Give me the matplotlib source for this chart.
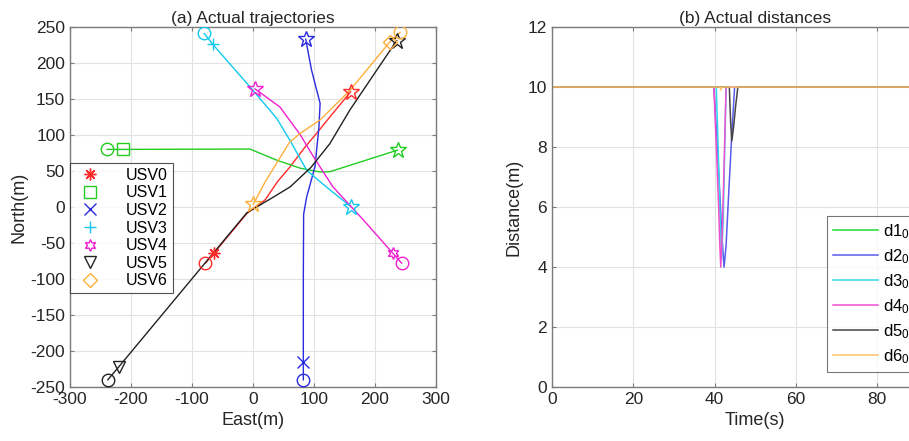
import numpy as np
import matplotlib
matplotlib.use("Agg")
import matplotlib.pyplot as plt

plt.rcParams['font.family'] = ['Liberation Sans', 'DejaVu Sans']
plt.rcParams['mathtext.fontset'] = 'custom'
plt.rcParams['mathtext.rm'] = 'Liberation Sans'
plt.rcParams['mathtext.it'] = 'Liberation Sans'
plt.rcParams['axes.unicode_minus'] = False

# ---- (a) trajectories: east / north points of each USV ----
usv_names = ['USV0', 'USV1', 'USV2', 'USV3', 'USV4', 'USV5', 'USV6']
usv_colors = ['#ff2a2a', '#22cc22', '#2a2ae0', '#11c8ee', '#f020d0', '#222222', '#ffb03a']
usv_markers = [(8, 2, 0), 's', 'x', '+', (6, 1, 0), 'v', 'D']

east0 = [-78, -64, -10, 20, 40, 60, 86, 104, 126, 160]
north0 = [-78, -64, -9, 10, 35, 55, 84, 102, 125, 160]
east1 = [-239, -213, -5, 39, 77, 110, 126, 237]
north1 = [80, 80, 80.5, 65, 54, 48.6, 49, 79]
east2 = [82.5, 82.5, 82.5, 83, 88, 101.6, 108, 110, 96, 86.4]
north2 = [-240, -215, -100, -10, 14, 56, 110, 144, 190, 233]
east3 = [-80, -66, 0, 39, 61, 88, 120, 160.6]
north3 = [241, 226, 162, 123, 92, 51, 28, 0.4]
east4 = [243.7, 229, 181, 131, 99, 77, 44, 3.3]
north4 = [-78, -64, -18, 28, 70, 101, 139, 164]
east5 = [-238, -220, -120, -10, 30, 61, 95, 126, 159, 235.5]
north5 = [-240, -222, -120, -8, 12, 28, 55, 88, 135, 231]
east6 = [241, 224.6, 159, 110, 77, 60, 44, 20, 0.5]
north6 = [242.6, 229.6, 162, 121, 102, 90, 68, 35, 3.7]

east_all = [east0, east1, east2, east3, east4, east5, east6]
north_all = [north0, north1, north2, north3, north4, north5, north6]

# ---- (b) distances to USV0 ----
dist_names = ['d1$_0$', 'd2$_0$', 'd3$_0$', 'd4$_0$', 'd5$_0$', 'd6$_0$']
dist_colors = ['#22dd33', '#5a5aee', '#33d8ee', '#f050d0', '#444444', '#ffc468']
t1 = [0, 100]
d1 = [10, 10]
t2 = [0, 39.8, 40.5, 41.2, 41.8, 42.3, 42.8, 43.5, 44.2, 44.9, 100]
d2 = [10, 10, 8.4, 6.6, 5.0, 4.0, 4.7, 6.6, 8.4, 10, 10]
t3 = [0, 40.4, 40.9, 41.3, 41.7, 42.1, 42.5, 42.8, 100]
d3 = [10, 10, 7.8, 5.8, 4.3, 5.6, 8.1, 10, 10]
t4 = [0, 39.8, 40.4, 41.0, 41.3, 41.5, 41.8, 42.2, 42.8, 100]
d4 = [10, 10, 8.0, 5.9, 4.6, 4.0, 4.9, 6.8, 10, 10]
t5 = [0, 43.6, 43.9, 44.2, 44.6, 45.1, 45.7, 100]
d5 = [10, 10, 8.9, 8.2, 8.6, 9.3, 10, 10]
t6 = [0, 41.3, 41.5, 41.7, 100]
d6 = [10, 10, 9.9, 10, 10]
t_all = [t1, t2, t3, t4, t5, t6]
d_all = [d1, d2, d3, d4, d5, d6]

fig = plt.figure(figsize=(9.09, 4.41), dpi=100)
W, H = 909, 441


def style_axes(ax):
    ax.grid(True, color='#e2e2e2', linewidth=0.8)
    ax.set_axisbelow(True)
    for s in ax.spines.values():
        s.set_color('#7a7a7a')
        s.set_linewidth(1.0)
    ax.tick_params(direction='in', top=True, right=True, labelsize=12.5,
                   colors='#7a7a7a', labelcolor='#262626', length=3)


# left panel
ax1 = fig.add_axes([70 / W, 1 - 387 / H, 366 / W, 360 / H])
style_axes(ax1)
for i in range(7):
    ax1.plot(east_all[i], north_all[i], color=usv_colors[i], lw=1.0, zorder=2)
for i in range(7):
    c = usv_colors[i]
    ax1.plot(east_all[i][0], north_all[i][0], 'o', ms=9, mfc='none', mec=c, mew=1.0, zorder=3)
    ax1.plot(east_all[i][-1], north_all[i][-1], marker='*', ms=12, mfc='none', mec=c, mew=1.0, zorder=3)
for i in range(7):
    ms = 7 if usv_markers[i] == 'D' else 8.5
    ax1.plot(east_all[i][1], north_all[i][1], linestyle='none', marker=usv_markers[i],
             ms=ms, mfc='none', mec=usv_colors[i], mew=1.0, label=usv_names[i], zorder=3)
ax1.set_xlim(-300, 300)
ax1.set_ylim(-250, 250)
ax1.set_xticks(np.arange(-300, 301, 100))
ax1.set_yticks(np.arange(-250, 251, 50))
ax1.set_xlabel('East(m)', fontsize=13, color='#262626')
ax1.set_ylabel('North(m)', fontsize=13, color='#262626', labelpad=2)
ax1.set_title('(a) Actual trajectories', fontsize=12.5, color='#262626', pad=3)
leg1 = ax1.legend(loc='upper left', bbox_to_anchor=(0.0, 0.622), borderaxespad=0,
                  fontsize=11.5, frameon=True, fancybox=False, edgecolor='#262626',
                  handletextpad=1.3, labelspacing=0.16, borderpad=0.3, handlelength=1.9)
leg1.get_frame().set_linewidth(0.8)

# right panel (extends past the right edge of the figure)
ax2 = fig.add_axes([552 / W, 1 - 387 / H, 406.7 / W, 360 / H])
style_axes(ax2)
for i in range(6):
    ax2.plot(t_all[i], d_all[i], color=dist_colors[i], lw=1.1, label=dist_names[i])
ax2.set_xlim(0, 100)
ax2.set_ylim(0, 12)
ax2.set_xticks(np.arange(0, 81, 20))
ax2.set_yticks(np.arange(0, 13, 2))
ax2.set_xlabel('Time(s)', fontsize=13, color='#262626')
ax2.set_ylabel('Distance(m)', fontsize=13, color='#262626', labelpad=4)
ax2.set_title('(b) Actual distances', fontsize=12.5, color='#262626', pad=3)
leg2 = ax2.legend(loc='upper left', bbox_to_anchor=(826.7 / W, 1 - 216 / H),
                  bbox_transform=fig.transFigure, borderaxespad=0,
                  fontsize=12, frameon=True, fancybox=False, edgecolor='#555555',
                  handletextpad=0.3, labelspacing=0.38, borderpad=0.35, handlelength=2.75)
leg2.get_frame().set_linewidth(0.8)

fig.savefig('out.png', dpi=100)
